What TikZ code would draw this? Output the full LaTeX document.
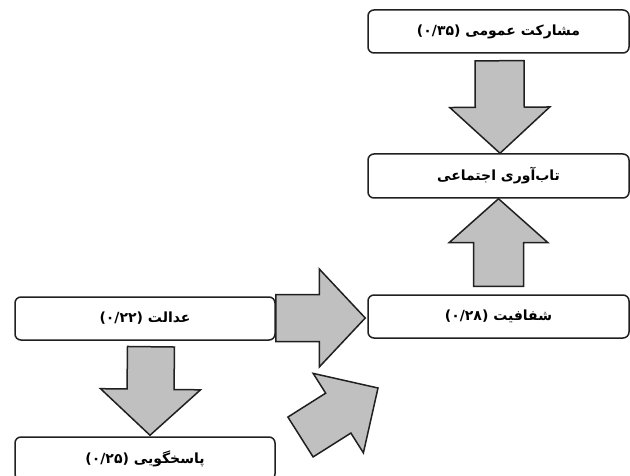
\documentclass[tikz,border=0pt]{standalone}
\usepackage{fontspec}
\usetikzlibrary{calc}
\TeXXeTstate=1
\newfontfamily\arfont[Script=Arabic, BoldFont={DejaVu Sans Bold}]{DejaVu Sans}
\definecolor{arrowgray}{HTML}{C0C0C0}
\definecolor{lineblack}{HTML}{202020}
\newcommand\blockarrow[5]{% from, to, shaft half width, head half width, head length
  \coordinate (ba-c) at ($(#2)!#5!(#1)$);
  \filldraw[blockarrowstyle]
    ($(#1)!#3!90:(#2)$) -- ($(ba-c)!#3!90:(#2)$) -- ($(ba-c)!#4!90:(#2)$) --
    (#2) -- ($(ba-c)!#4!-90:(#2)$) -- ($(ba-c)!#3!-90:(#2)$) -- ($(#1)!#3!-90:(#2)$) -- cycle;
}
\begin{document}
\begin{tikzpicture}[x=1pt,y=-1pt,
  box/.style={draw=lineblack, line width=1.5pt, rounded corners=6pt, fill=white,
    minimum height=43pt, inner sep=0pt, font=\arfont\bfseries\fontsize{14}{16}\selectfont},
  widebox/.style={box, minimum width=261pt},
  leftbox/.style={box, minimum width=260pt},
  blockarrowstyle/.style={draw=lineblack, fill=arrowgray, line width=1.5pt, line join=miter}]
\useasboundingbox (0,0) rectangle (630,476);

\node[widebox] (b1) at (498.5,31.5) {(۰/۳۵) \beginR مشارکت عمومی\endR};
\node[widebox, minimum height=44pt] (b2) at (498.5,176) {\beginR تاب^^^^200cآوری اجتماعی\endR};
\node[widebox] (b3) at (498.5,316.5) {(۰/۲۸) \beginR شفافیت\endR};
\node[leftbox] (b4) at (145,318.5) {(۰/۲۲) \beginR عدالت\endR};
\node[leftbox] (b5) at (145,458.5) {(۰/۲۵) \beginR پاسخگویی\endR};

% arrows
\coordinate (a1s) at ($(b1.south)+(1,7)$);
\coordinate (a1e) at ($(b2.north)+(1.5,0)$);
\blockarrow{a1s}{a1e}{24.5pt}{50pt}{46pt}

\coordinate (a2s) at ($(b3.north)+(0,-8)$);
\coordinate (a2e) at ($(b2.south)+(0,0)$);
\blockarrow{a2s}{a2e}{25pt}{49.5pt}{44pt}

\coordinate (a3s) at ($(b4.east)+(0,-0.5)$);
\coordinate (a3e) at ($(b3.west)+(-2,1.5)$);
\blockarrow{a3s}{a3e}{23.5pt}{49pt}{46pt}

\coordinate (a4s) at ($(b4.south)+(6,6)$);
\coordinate (a4e) at ($(b5.north)+(5,-1)$);
\blockarrow{a4s}{a4e}{23.5pt}{50pt}{46pt}

\coordinate (a5s) at (300.5,437);
\coordinate (a5e) at (378,388);
\blockarrow{a5s}{a5e}{23.6pt}{47pt}{47pt}
\end{tikzpicture}
\end{document}
